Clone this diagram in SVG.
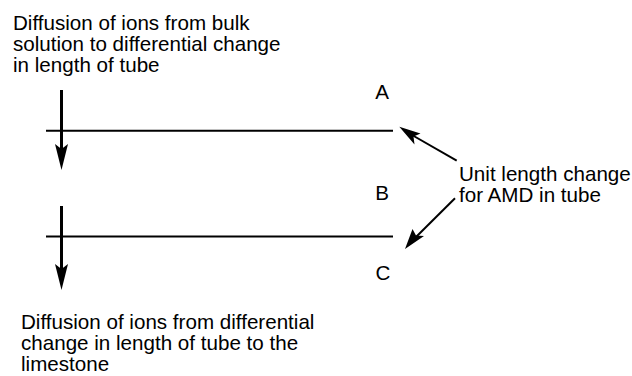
<svg xmlns="http://www.w3.org/2000/svg" width="632" height="376" viewBox="0 0 632 376">
<style>
text{font-family:"Liberation Sans",Arial,sans-serif;font-size:20.6px;fill:#000}
.tube{stroke:#000;stroke-width:2;fill:none}
.flux{stroke:#000;stroke-width:3;fill:none}
.ptr{stroke:#000;stroke-width:2;fill:none}
.head{fill:#000;stroke:none}
</style>
<rect width="632" height="376" fill="#fff"/>
<g id="label-top">
<text x="13" y="30">Diffusion of ions from bulk</text>
<text x="13" y="51">solution to differential change</text>
<text x="13" y="72">in length of tube</text>
</g>
<g id="label-A"><text x="382" y="99" text-anchor="middle">A</text></g>
<g id="label-B"><text x="382" y="200" text-anchor="middle">B</text></g>
<g id="label-C"><text x="383" y="280" text-anchor="middle">C</text></g>
<g id="label-unit">
<text x="459" y="181">Unit length change</text>
<text x="459" y="202">for AMD in tube</text>
</g>
<g id="label-bottom">
<text x="21" y="329">Diffusion of ions from differential</text>
<text x="21" y="350">change in length of tube to the</text>
<text x="21" y="371"> limestone</text>
</g>
<g id="tube-lines">
<line class="tube" x1="46" y1="130.7" x2="393" y2="130.7"/>
<line class="tube" x1="46" y1="236.5" x2="393" y2="236.5"/>
</g>
<g id="connectors">
<line class="flux" x1="61.5" y1="90" x2="61.5" y2="150"/>
<polygon class="head" points="61.5,170 55,144 61.5,149 68,144"/>
<line class="flux" x1="61.5" y1="206" x2="61.5" y2="270"/>
<polygon class="head" points="61.5,290 55,264 61.5,269 68,264"/>
<line class="ptr" x1="456.7" y1="160.7" x2="412" y2="135"/>
<polygon class="head" points="399.3,126.7 420.5,133.5 413.5,136.5 414.5,144.5"/>
<line class="ptr" x1="455" y1="198.3" x2="416" y2="237"/>
<polygon class="head" points="405,249 412.5,229 416,235.5 424,236"/>
</g>
</svg>
